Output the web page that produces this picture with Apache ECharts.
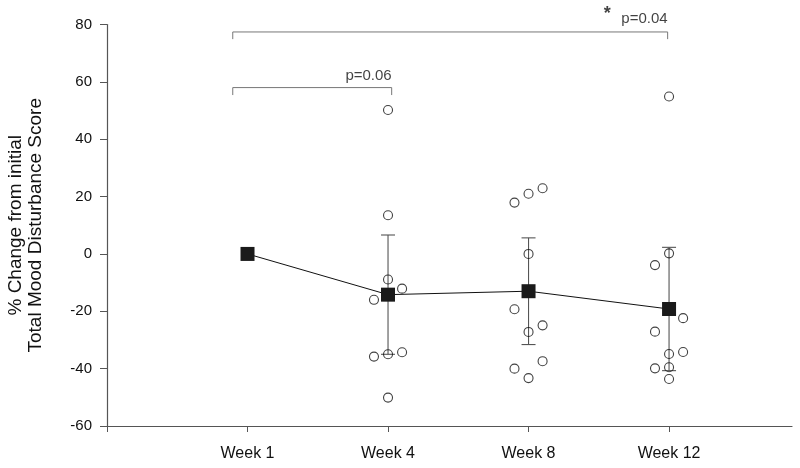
<!DOCTYPE html>
<html>
<head>
<meta charset="utf-8">
<script src="https://cdn.jsdelivr.net/npm/echarts@6/dist/echarts.min.js"></script>
<style>html,body{margin:0;padding:0;background:#fff;}#c{width:800px;height:468px;}</style>
</head>
<body>
<div id="c"></div>
<script>
// ---- data ----
const weekLabels = ['Week 1', 'Week 4', 'Week 8', 'Week 12'];
const weekPos = [1, 2, 3, 4];
const meanValues = [0, -14.2, -13.0, -19.2];
const errValues = [0, 20.8, 18.6, 21.5];

// individual subjects (value and horizontal jitter column: -1, 0, +1)
const week4Values = [50.2, 13.5, -8.9, -12.1, -16.0, -35.8, -35.0, -34.3, -50.1];
const week4Jitter = [0, 0, 0, 1, -1, -1, 0, 1, 0];
const week8Values = [17.9, 21.0, 22.9, 0, -19.3, -24.9, -27.2, -37.4, -40.0, -43.3];
const week8Jitter = [-1, 0, 1, 0, -1, 1, 0, 1, -1, 0];
const week12Values = [54.9, 0.2, -3.9, -22.4, -27.1, -34.9, -34.2, -39.9, -39.5, -43.6];
const week12Jitter = [0, 0, -1, 1, -1, 0, 1, -1, 0, 0];

const yTicks = [-60, -40, -20, 0, 20, 40, 60, 80];

// significance brackets: [left x, right x, bar value, end value]
const bracketLong = [0.895, 3.99, 77.4, 74.9];
const bracketShort = [0.895, 2.026, 58.0, 55.4];
const pTexts = ['p=0.06', 'p=0.04'];

// ---- build ----
const jitterStep = 0.1;
function pts(pos, vals, jit) { return vals.map((v, i) => [pos + jit[i] * jitterStep, v]); }
const circles = [].concat(
  pts(weekPos[1], week4Values, week4Jitter),
  pts(weekPos[2], week8Values, week8Jitter),
  pts(weekPos[3], week12Values, week12Jitter)
);
function bracket(b) { return [[b[0], b[3]], [b[0], b[2]], [b[1], b[2]], [b[1], b[3]]]; }

const chart = echarts.init(document.getElementById('c'), null, {renderer: 'canvas'});
const axisColor = '#555';
const textColor = '#111';
const font = '"Liberation Sans", Arial, sans-serif';

chart.setOption({
  animation: false,
  backgroundColor: '#fff',
  grid: {left: 107, right: 8, top: 24.5, bottom: 42, containLabel: false, outerBoundsMode: 'none'},
  xAxis: {
    type: 'value', min: 0, max: 4.875,
    axisLine: {show: true, onZero: false, lineStyle: {color: axisColor, width: 1.2}},
    axisTick: {show: true, length: 6, customValues: [0, 1, 2, 3, 4], lineStyle: {color: axisColor}},
    axisLabel: {
      customValues: weekPos, margin: 20, color: textColor, fontSize: 16, fontFamily: font,
      formatter: v => weekLabels[weekPos.indexOf(v)] || ''
    },
    splitLine: {show: false}
  },
  yAxis: {
    type: 'value', min: -60, max: 80, interval: 20,
    name: '% Change from initial\nTotal Mood Disturbance Score',
    nameLocation: 'middle', nameGap: 61,
    nameTextStyle: {fontSize: 19, fontFamily: font, color: textColor, lineHeight: 20},
    axisLine: {show: true, lineStyle: {color: axisColor, width: 1.2}},
    axisTick: {show: true, length: 7, lineStyle: {color: axisColor}},
    axisLabel: {margin: 15, color: textColor, fontSize: 15, fontFamily: font},
    splitLine: {show: false}
  },
  series: [
    {
      type: 'line', data: bracket(bracketLong), symbol: 'none', silent: true,
      lineStyle: {color: '#777', width: 1}
    },
    {
      type: 'line', data: bracket(bracketShort), symbol: 'none', silent: true,
      lineStyle: {color: '#777', width: 1}
    },
    {
      type: 'scatter', clip: false, symbolSize: 0, silent: true,
      data: [
        {value: [bracketShort[1], 62.0], label: {formatter: pTexts[0]}},
        {value: [bracketLong[1], 82.0], label: {formatter: pTexts[1]}},
        {value: [3.585, 83.6], label: {formatter: '*', fontSize: 18, fontWeight: 'bold'}}
      ],
      label: {show: true, position: 'inside', align: 'right', verticalAlign: 'middle',
              color: textColor, fontSize: 15, fontFamily: font}
    },
    {
      type: 'scatter', data: circles, symbol: 'circle', symbolSize: 9, silent: true,
      itemStyle: {color: 'rgba(255,255,255,0)', borderColor: '#111', borderWidth: 1.1}
    },
    {
      type: 'custom', silent: true,
      data: weekPos.map((p, i) => [p, meanValues[i], errValues[i]]),
      renderItem: function (params, api) {
        const x = api.value(0), m = api.value(1), e = api.value(2);
        if (!e) return null;
        const t = api.coord([x, m + e]);
        const b = api.coord([x, m - e]);
        const hw = 7;
        const st = {stroke: '#555', lineWidth: 1.1};
        return {type: 'group', children: [
          {type: 'line', shape: {x1: t[0], y1: t[1], x2: b[0], y2: b[1]}, style: st},
          {type: 'line', shape: {x1: t[0] - hw, y1: t[1], x2: t[0] + hw, y2: t[1]}, style: st},
          {type: 'line', shape: {x1: b[0] - hw, y1: b[1], x2: b[0] + hw, y2: b[1]}, style: st}
        ]};
      }
    },
    {
      type: 'line', data: weekPos.map((p, i) => [p, meanValues[i]]),
      symbol: 'rect', symbolSize: 14, silent: true,
      lineStyle: {color: '#111', width: 1},
      itemStyle: {color: '#1a1a1a', borderWidth: 0}
    }
  ]
});
</script>
</body>
</html>
